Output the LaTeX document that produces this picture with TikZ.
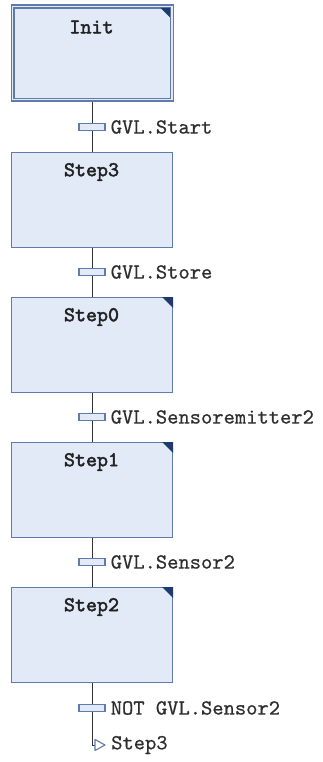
\documentclass[tikz,border=0pt]{standalone}
\usepackage{fontspec}
\newfontfamily\lblfont{lmmono10-regular.otf}[BoldFont=lmmono10-regular.otf,BoldFeatures={FakeBold=0.6}]
\newfontfamily\ttlfont{lmmono10-regular.otf}[BoldFont=lmmono10-regular.otf,BoldFeatures={FakeBold=2.2}]
\begin{document}
\begin{tikzpicture}[x=1pt,y=-1pt,
  stepbox/.style={draw=stepedge,fill=stepfill,line width=1.1pt,minimum width=161pt,minimum height=95pt,inner sep=0pt},
  steptitle/.style={font=\ttlfont\bfseries\fontsize{21}{23}\selectfont,text=titlecol},
  trbar/.style={draw=stepedge,fill=stepfill,line width=1.1pt,minimum width=26pt,minimum height=7pt,inner sep=0pt},
  trlabel/.style={font=\lblfont\bfseries\fontsize{21.5}{23}\selectfont,text=labelcol,anchor=west,inner sep=0pt},
  link/.style={draw=linkcol,line width=1pt}]
\definecolor{stepfill}{HTML}{E2E9F7}
\definecolor{stepedge}{HTML}{5F7BAE}
\definecolor{cornercol}{HTML}{1E3A6E}
\definecolor{titlecol}{HTML}{222222}
\definecolor{labelcol}{HTML}{2E2E2E}
\definecolor{linkcol}{HTML}{333333}
\useasboundingbox (0,0) rectangle (322,762);

% initial step with double border
\node[stepbox,minimum width=162pt,minimum height=96pt,anchor=north west] (init) at (10.5,4.5) {};
\draw[stepedge,line width=1.1pt] ([shift={(3.5,3.5)}]init.north west) rectangle ([shift={(-3.5,-3.5)}]init.south east);
\fill[cornercol] ([shift={(-13,3.5)}]init.north east) -- ([shift={(-3.5,3.5)}]init.north east) -- ([shift={(-3.5,13)}]init.north east) -- cycle;
\node[steptitle] (initt) at (91.5,27) {Init};

% ordinary steps
\node[stepbox,anchor=north west] (s3) at (11,152) {};
\node[steptitle] at (91.5,172) {Step3};
\node[stepbox,anchor=north west] (s0) at (11,297) {};
\node[steptitle] at (91.5,317) {Step0};
\node[stepbox,anchor=north west] (s1) at (11,442) {};
\node[steptitle] at (91.5,462) {Step1};
\node[stepbox,anchor=north west] (s2) at (11,587) {};
\node[steptitle] at (91.5,607) {Step2};

\foreach \s in {s0,s1,s2}{
  \fill[cornercol] ([shift={(-11,0)}]\s.north east) -- (\s.north east) -- ([shift={(0,11)}]\s.north east) -- cycle;
}

% transitions
\node[trbar] (t1) at (92,127) {};
\node[trbar] (t2) at (92,272) {};
\node[trbar] (t3) at (92,417) {};
\node[trbar] (t4) at (92,562) {};
\node[trbar] (t5) at (92,708) {};

\node[trlabel] at ([xshift=5pt]t1.east) {GVL.Start};
\node[trlabel] at ([xshift=5pt]t2.east) {GVL.Store};
\node[trlabel] at ([xshift=5pt]t3.east) {GVL.Sensoremitter2};
\node[trlabel] at ([xshift=5pt]t4.east) {GVL.Sensor2};
\node[trlabel] at ([xshift=5pt]t5.east) {NOT GVL.Sensor2};

% connections
\coordinate (a) at (92,0);
\draw[link] (init.south -| a) -- (t1.north);
\draw[link] (t1.south) -- (s3.north -| a);
\draw[link] (s3.south -| a) -- (t2.north);
\draw[link] (t2.south) -- (s0.north -| a);
\draw[link] (s0.south -| a) -- (t3.north);
\draw[link] (t3.south) -- (s1.north -| a);
\draw[link] (s1.south -| a) -- (t4.north);
\draw[link] (t4.south) -- (s2.north -| a);
\draw[link] (s2.south -| a) -- (t5.north);

% jump to Step3
\coordinate (jb) at (92,745);
\coordinate (jt) at (95,745);
\draw[link] (t5.south) -- (jb) -- (jt);
\draw[stepedge,fill=white,line width=1.1pt,line join=round] (jt) ++(0,-5.5) -- ++(10,5.5) -- ++(-10,5.5) -- cycle;
\node[trlabel] (jl) at (111,745) {Step3};
\end{tikzpicture}
\end{document}
